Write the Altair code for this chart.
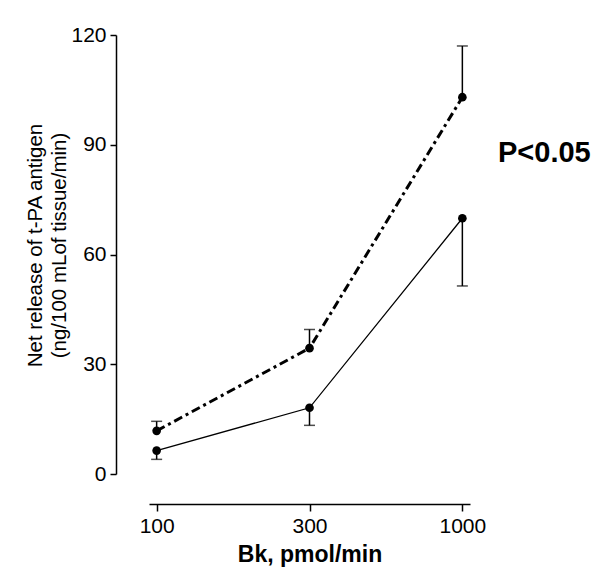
import altair as alt
import pandas as pd

doses = ["100", "300", "1000"]
dashed_mean = [11.8, 34.4, 103.0]
dashed_upper = [14.4, 39.5, 117.0]
solid_mean = [6.4, 18.1, 69.9]
solid_lower = [4.0, 13.3, 51.4]

FONT = "Liberation Sans"

dashed = pd.DataFrame({"dose": doses, "mean": dashed_mean, "err": dashed_upper})
solid = pd.DataFrame({"dose": doses, "mean": solid_mean, "err": solid_lower})

xenc = alt.X(
    "dose:O",
    sort=doses,
    scale=alt.Scale(type="point", padding=0.05),
    axis=alt.Axis(
        title="Bk, pmol/min", labelAngle=0, labelAlign="center", labelFlush=False,
        offset=30, tickSize=7,
        labelPadding=15, labelFontSize=21, titleFontSize=23, titleFontWeight="bold",
        titlePadding=7, domainWidth=1.5, tickWidth=1.5, domainColor="black",
        tickColor="black", labelColor="black", titleColor="black",
        labelFont=FONT, titleFont=FONT, grid=False,
    ),
)
yscale = alt.Scale(domain=[0, 120], nice=False, zero=True)
yenc = alt.Y(
    "mean:Q",
    scale=yscale,
    axis=alt.Axis(
        title=["Net release of t-PA antigen", "(ng/100 mLof tissue/min)"],
        values=[0, 30, 60, 90, 120], offset=33, tickSize=6, labelPadding=4,
        labelFontSize=21, titleFontSize=20.5, titleFontWeight="normal",
        titleLineHeight=24, titlePadding=1, titleY=210, domainWidth=1.5, tickWidth=1.5,
        domainColor="black", tickColor="black", labelColor="black",
        titleColor="black", labelFont=FONT, titleFont=FONT, grid=False,
    ),
)


def series(df, dash, width):
    base = alt.Chart(df)
    line_kw = dict(color="black", strokeWidth=width)
    if dash:
        line_kw["strokeDash"] = dash
    line = base.mark_line(**line_kw).encode(x=xenc, y=yenc)
    rule = base.mark_rule(color="black", strokeWidth=1.5).encode(
        x=alt.X("dose:O", sort=doses), y=alt.Y("mean:Q", scale=yscale), y2="err:Q"
    )
    cap = base.mark_tick(color="black", size=11, thickness=1.5).encode(
        x=alt.X("dose:O", sort=doses), y=alt.Y("err:Q", scale=yscale)
    )
    pts = base.mark_point(filled=True, color="black", size=75, opacity=1).encode(
        x=alt.X("dose:O", sort=doses), y=alt.Y("mean:Q", scale=yscale)
    )
    return [rule, cap, line, pts]


note = alt.Chart(pd.DataFrame({"t": ["P<0.05"]})).mark_text(
    font=FONT, fontSize=29, fontWeight="bold", align="left", baseline="middle",
    color="black",
).encode(text="t:N", x=alt.value(349), y=alt.value(118))

chart = alt.layer(
    *series(solid, None, 1.3), *series(dashed, [9, 4, 3, 4], 3), note
).properties(
    width=321, height=439,
    autosize=alt.AutoSizeParams(type="none"),
    padding={"left": 141, "top": 27, "right": 122, "bottom": 105},
).configure(background="white").configure_view(stroke=None)

chart.save("out.html", embed_options={"renderer": "svg", "actions": False})
